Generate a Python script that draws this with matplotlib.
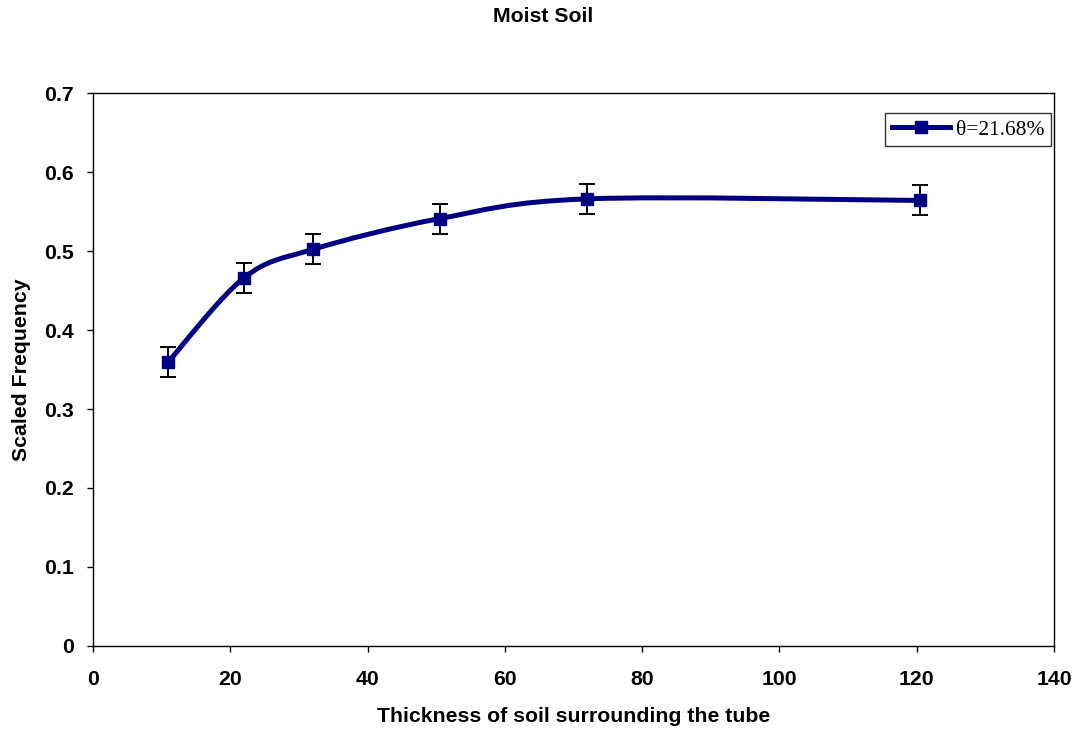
import numpy as np
import matplotlib
matplotlib.use("Agg")
from matplotlib import pyplot as plt
from matplotlib.path import Path
from matplotlib.patches import PathPatch
from matplotlib.lines import Line2D

# thickness of soil around the tube vs scaled frequency
thickness = [11, 22, 32, 50.5, 72, 120.5]
scaled_freq = [0.360, 0.466, 0.502, 0.541, 0.566, 0.564]
freq_err = [0.019, 0.019, 0.019, 0.019, 0.019, 0.019]

x_ticks = [0, 20, 40, 60, 80, 100, 120, 140]
y_ticks = [0, 0.1, 0.2, 0.3, 0.4, 0.5, 0.6, 0.7]

LINE_COLOR = "#000080"
SANS = ["Liberation Sans", "DejaVu Sans"]
FS = 15.3


def smooth_path(xs, ys):
    """Catmull-Rom style bezier through the points (spreadsheet 'smoothed line')."""
    pts = np.column_stack([xs, ys]).astype(float)
    ext = np.vstack([pts[0], pts, pts[-1]])
    verts = [pts[0]]
    codes = [Path.MOVETO]
    for i in range(1, len(ext) - 2):
        p0, p1, p2, p3 = ext[i - 1], ext[i], ext[i + 1], ext[i + 2]
        c1 = p1 + (p2 - p0) / 6.0
        c2 = p2 - (p3 - p1) / 6.0
        verts += [c1, c2, p2]
        codes += [Path.CURVE4] * 3
    return Path(verts, codes)


fig = plt.figure(figsize=(10.76, 7.33), dpi=100)
ax = fig.add_axes([0.0864, 0.1187, 0.8932, 0.7544])

ax.add_patch(PathPatch(smooth_path(thickness, scaled_freq), facecolor="none",
                       edgecolor=LINE_COLOR, lw=3.6, capstyle="round", zorder=2))
ax.errorbar(thickness, scaled_freq, yerr=freq_err, fmt="none", ecolor="black",
            elinewidth=1.4, capsize=5.5, capthick=1.4, zorder=3)
ax.plot(thickness, scaled_freq, ls="none", marker="s", ms=9,
        color=LINE_COLOR, zorder=4)

ax.set_xlim(0, 140)
ax.set_ylim(0, 0.7)
ax.set_xticks(x_ticks)
ax.set_yticks(y_ticks)
ax.set_xticklabels([str(v) for v in x_ticks])
ax.set_yticklabels(["0" if v == 0 else f"{v:.1f}" for v in y_ticks])
ax.tick_params(direction="out", length=4.5, width=1, color="black")
ax.tick_params(axis="x", pad=13)
ax.tick_params(axis="y", pad=9)
for lab in ax.get_xticklabels() + ax.get_yticklabels():
    lab.set_fontfamily(SANS)
    lab.set_fontweight("bold")
    lab.set_fontsize(FS)
for sp in ax.spines.values():
    sp.set_linewidth(1.0)
    sp.set_color("black")

ax.set_xlabel("Thickness of soil surrounding the tube", family=SANS,
              fontweight="bold", fontsize=FS, labelpad=13)
ax.set_ylabel("Scaled Frequency", family=SANS, fontweight="bold",
              fontsize=FS, labelpad=10)
fig.text(0.505, 0.977, "Moist Soil", family=SANS, fontweight="bold",
         fontsize=FS, ha="center", va="center")

handle = Line2D([], [], color=LINE_COLOR, lw=3.6, marker="s", ms=9)
leg = ax.legend([handle], ["θ=21.68%"], loc="upper right",
                bbox_to_anchor=(0.997, 0.963),
                prop={"family": ["Liberation Serif", "DejaVu Serif"], "size": 15.5},
                frameon=True, fancybox=False, handlelength=2.7,
                borderpad=0.3, handletextpad=0.3, borderaxespad=0)
leg.get_frame().set_edgecolor("black")
leg.get_frame().set_linewidth(1.0)

fig.savefig("out.png", dpi=100)
